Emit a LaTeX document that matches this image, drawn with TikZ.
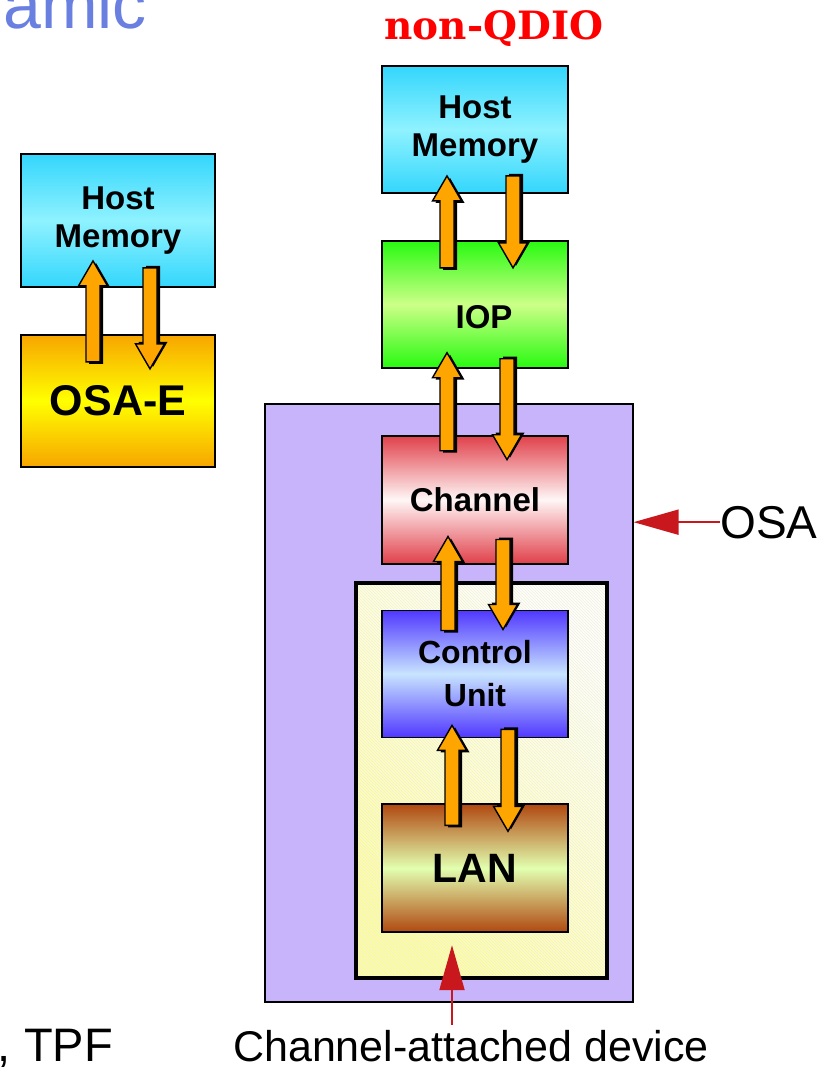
\documentclass[tikz,border=0pt]{standalone}
\usepackage{fontspec}
\setmainfont{Liberation Sans}
\newfontfamily\qdiofont{DejaVu Serif}
\usetikzlibrary{arrows.meta,positioning,calc,patterns}

\definecolor{hmedge}{HTML}{33D6FC}
\definecolor{hmmid}{HTML}{8FF2FF}
\definecolor{osaeedge}{HTML}{F7A500}
\definecolor{osaemid}{HTML}{FFFF00}
\definecolor{iopedge}{HTML}{28FA10}
\definecolor{iopmid}{HTML}{CCFF88}
\definecolor{chanedge}{HTML}{E0404A}
\definecolor{chanmid}{HTML}{FFF6F6}
\definecolor{cuedge}{HTML}{5038FF}
\definecolor{cumid}{HTML}{C8E4FF}
\definecolor{lanedge}{HTML}{B04810}
\definecolor{lanmid}{HTML}{E2FFB0}
\definecolor{osapurple}{HTML}{C8B4FA}
\definecolor{devyellow}{HTML}{FFFF90}
\definecolor{devlight}{HTML}{FFFFF4}
\definecolor{arrorange}{HTML}{FFA500}
\definecolor{osared}{HTML}{C8181E}
\definecolor{amicblue}{HTML}{6A80E0}

\begin{document}
\begin{tikzpicture}[
  x=1pt, y=-1pt,
  box/.style={rectangle, draw, line width=1.8pt, align=center, minimum width=186pt, minimum height=127pt,
    font=\fontsize{33}{38}\selectfont\bfseries},
  note/.style={inner sep=0pt, font=\fontsize{46}{46}\selectfont},
  redarr/.style={draw=osared, line width=2pt, -{Triangle[length=45pt,width=25pt]}},
  fatup/.style={fill=arrorange, draw=black, line width=1.4pt,
    preaction={fill=black, transform canvas={shift={(3pt,-2pt)}}},
    to path={let \p1=(\tikztostart), \p2=(\tikztotarget) in
      (\x1-7pt,\y1) -- (\x1-7pt,\y2-25pt) -- (\x1-14.5pt,\y2-25pt) -- (\x1,\y2)
      -- (\x1+14.5pt,\y2-25pt) -- (\x1+7pt,\y2-25pt) -- (\x1+7pt,\y1) -- cycle}},
  fatdown/.style={fill=arrorange, draw=black, line width=1.4pt,
    preaction={fill=black, transform canvas={shift={(3pt,2pt)}}},
    to path={let \p1=(\tikztostart), \p2=(\tikztotarget) in
      (\x1-7pt,\y1) -- (\x1-7pt,\y2+25pt) -- (\x1-14.5pt,\y2+25pt) -- (\x1,\y2)
      -- (\x1+14.5pt,\y2+25pt) -- (\x1+7pt,\y2+25pt) -- (\x1+7pt,\y1) -- cycle}}
]
\useasboundingbox (0,0) rectangle (828,1067);

% titles and notes
\node[note, font=\fontsize{68}{68}\selectfont, text=amicblue, anchor=base west] (amic) at (3,29) {amic};
\node[font=\qdiofont\bfseries\fontsize{39}{39}\selectfont, text=red, inner sep=0pt, anchor=base] (qdio) at (494,40) {non-QDIO};
\node[note, anchor=base west] (osalbl) at (720,538) {OSA};
\node[note, font=\fontsize{47}{47}\selectfont, anchor=base east] (tpf) at (113,1061) {, TPF};
\node[note, font=\fontsize{43}{43}\selectfont, anchor=base] (cad) at (471,1061) {Channel-attached device};

% left column
\node[box, minimum width=194pt, minimum height=133pt, top color=hmedge, bottom color=hmedge, middle color=hmmid] (hmA) at (118,220.5) {Host\\Memory};
\node[box, minimum width=194pt, minimum height=132pt, below=46pt of hmA, top color=osaeedge, bottom color=osaeedge, middle color=osaemid,
  font=\fontsize{43}{43}\selectfont\bfseries] (osae) {OSA-E};

% right column
\node[box, top color=hmedge, bottom color=hmedge, middle color=hmmid] (hmB) at (475,129.5) {Host\\Memory};
\node[box, below=46pt of hmB, top color=iopedge, bottom color=iopedge, middle color=iopmid] (iop) {\hspace*{18pt}\raisebox{-24pt}[0pt][0pt]{IOP}};
\node[draw, line width=1.2pt, fill=osapurple, minimum width=368pt, minimum height=598pt] (osa) at (449,703) {};
\node[minimum width=251pt, minimum height=395pt,
  top color=devlight, bottom color=devyellow, shading angle=-45,
  postaction={pattern=north west lines, pattern color=black!7},
  postaction={draw, line width=3.8pt}] (dev) at (481.5,780.5) {};
\node[box, minimum height=128pt, below=66pt of iop, top color=chanedge, bottom color=chanedge, middle color=chanmid] (chan) {Channel};
\node[box, below=45pt of chan, top color=cuedge, bottom color=cuedge, middle color=cumid,
  font=\fontsize{32}{43}\selectfont\bfseries] (cu) {Control\\Unit};
\node[box, minimum height=128pt, below=65pt of cu, top color=lanedge, bottom color=lanedge, middle color=lanmid,
  font=\fontsize{41}{41}\selectfont\bfseries] (lan) {LAN};

% block arrows
\draw[fatup] ([xshift=-25pt,yshift=-28pt]osae.north) to ([yshift=27pt]hmA.south);
\draw[fatdown] ([xshift=32pt,yshift=20pt]hmA.south) to ([yshift=-35pt]osae.north);
\draw[fatup] ([xshift=-28pt,yshift=-28pt]iop.north) to ([yshift=18pt]hmB.south);
\draw[fatdown] ([xshift=38pt,yshift=18pt]hmB.south) to ([yshift=-28pt]iop.north);
\draw[fatup] ([xshift=-28pt,yshift=-16pt]chan.north) to ([yshift=16pt]iop.south);
\draw[fatdown] ([xshift=32pt,yshift=10pt]iop.south) to ([yshift=-25pt]chan.north);
\draw[fatup] ([xshift=-27pt,yshift=-21pt]cu.north) to ([yshift=28pt]chan.south);
\draw[fatdown] ([xshift=28pt,yshift=25pt]chan.south) to ([yshift=-20pt]cu.north);
\draw[fatup] ([xshift=-23pt,yshift=-22pt]lan.north) to ([yshift=13pt]cu.south);
\draw[fatdown] ([xshift=33pt,yshift=9pt]cu.south) to ([yshift=-28pt]lan.north);

% pointers
\draw[redarr] (osalbl.west) -- (osalbl.west -| osa.east);
\coordinate (cadtop) at ([xshift=-19pt,yshift=5pt]cad.north);
\draw[redarr] (cadtop) -- ([yshift=33pt]cadtop |- dev.south);
\end{tikzpicture}
\end{document}
